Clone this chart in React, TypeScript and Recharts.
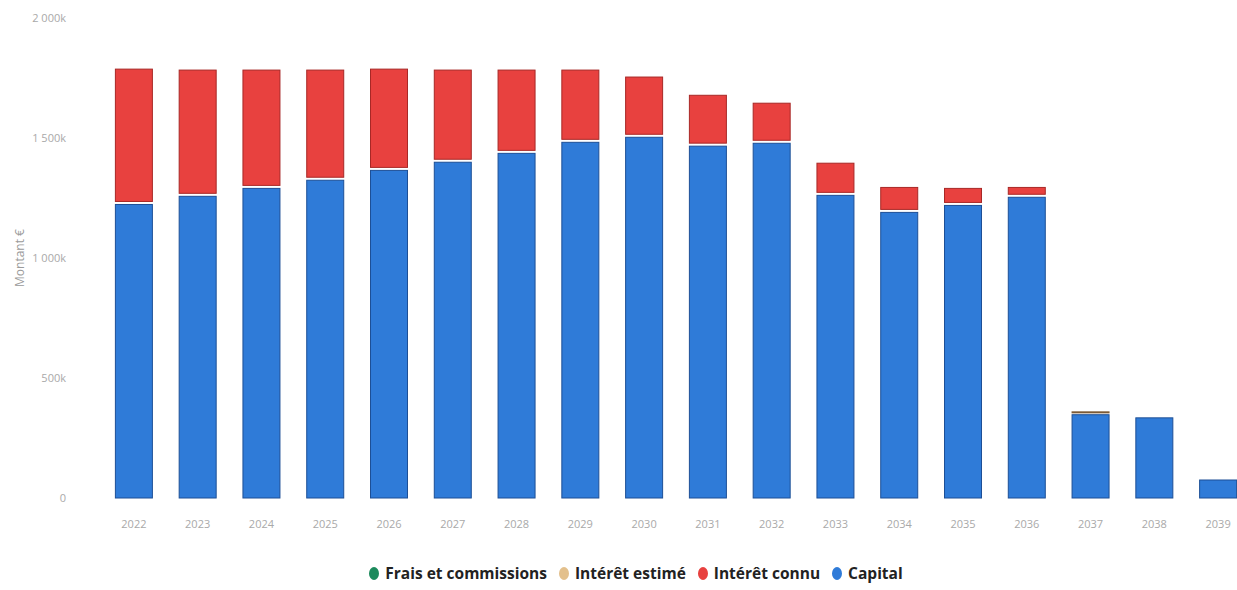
import { BarChart, Bar, XAxis, YAxis, Label } from "recharts";

// Échéancier annuel : capital restant et intérêts, en euros
const years = ["2022", "2023", "2024", "2025", "2026", "2027", "2028", "2029", "2030", "2031", "2032", "2033", "2034", "2035", "2036", "2037", "2038", "2039"];
const capital = [1223000, 1257000, 1290000, 1324000, 1365000, 1399000, 1436000, 1482000, 1503000, 1466000, 1478000, 1261000, 1190000, 1219000, 1253000, 347000, 334000, 75000];
const interetConnu = [564000, 526000, 493000, 459000, 422000, 384000, 347000, 301000, 251000, 212000, 167000, 134000, 104000, 71000, 41000, 0, 0, 0];
const interetEstime = [0, 0, 0, 0, 0, 0, 0, 0, 0, 0, 0, 0, 0, 0, 0, 12000, 0, 0];
const frais = [0, 0, 0, 0, 0, 0, 0, 0, 0, 0, 0, 0, 0, 0, 0, 0, 0, 0];
const yTicks = [0, 500000, 1000000, 1500000, 2000000];

const series = [
  { key: "capital", name: "Capital", color: "#2f7bd8", edge: "#1d4f96" },
  { key: "interetConnu", name: "Intérêt connu", color: "#e8413f", edge: "#a82826" },
  { key: "interetEstime", name: "Intérêt estimé", color: "#e3c08c", edge: "#7a5a36" },
  { key: "frais", name: "Frais et commissions", color: "#1c8a5c", edge: "#11603f" },
];
const legendOrder = ["frais", "interetEstime", "interetConnu", "capital"];

const data = years.map((year, i) => ({
  year,
  capital: capital[i],
  interetConnu: interetConnu[i],
  interetEstime: interetEstime[i],
  frais: frais[i],
}));

const formatK = (v: number) => {
  if (v === 0) return "0";
  const k = v / 1000;
  return k >= 1000 ? `${Math.floor(k / 1000)} ${String(k % 1000).padStart(3, "0")}k` : `${k}k`;
};

// segment with a dark edge; stacked segments leave a white gap below them
function Segment(props: any) {
  const { x, y, width, height, fill, edge, gap } = props;
  if (!height || height <= 0) return null;
  const h = Math.max(height - gap, 1);
  return <rect x={x} y={y} width={width} height={h} fill={fill} stroke={edge} strokeWidth={1} />;
}

const tickStyle = { fontSize: 11, fill: "#a9a9a9", fontFamily: "'Open Sans', sans-serif" };

export default function App() {
  return (
    <div style={{ position: "absolute", left: 0, top: 0, width: 1237, height: 590, overflow: "hidden", background: "#fff" }}>
      <BarChart width={1250} height={545} data={data} margin={{ top: 18, right: 0, left: 0, bottom: 0 }} barCategoryGap="21%">
        <XAxis dataKey="year" axisLine={false} tickLine={false} tick={tickStyle} tickMargin={16} height={47} />
        <YAxis domain={[0, 2000000]} ticks={yTicks} axisLine={false} tickLine={false} tick={tickStyle} tickFormatter={formatK} width={102} tickMargin={30}>
          <Label value="Montant €" angle={-90} position="insideLeft" offset={20} style={{ fontSize: 12, fill: "#9a9a9a", fontFamily: "'Open Sans', sans-serif", textAnchor: "middle" }} />
        </YAxis>
        {series.map((s, idx) => (
          <Bar
            key={s.key}
            dataKey={s.key}
            name={s.name}
            stackId="a"
            fill={s.color}
            isAnimationActive={false}
            shape={(p: any) => <Segment {...p} fill={s.color} edge={s.edge} gap={idx === 0 ? 0 : 3} />}
          />
        ))}
      </BarChart>
      <div style={{ position: "absolute", top: 562, left: 0, width: 1272, display: "flex", justifyContent: "center", gap: 12, fontFamily: "'Open Sans', sans-serif", fontWeight: 700, fontSize: 15.5, color: "#222" }}>
        {legendOrder.map((k) => {
          const s = series.find((x) => x.key === k)!;
          return (
            <div key={k} style={{ display: "flex", alignItems: "center", gap: 6 }}>
              <span style={{ width: 10, height: 13, borderRadius: "50%", background: s.color, display: "inline-block" }} />
              <span>{s.name}</span>
            </div>
          );
        })}
      </div>
    </div>
  );
}
